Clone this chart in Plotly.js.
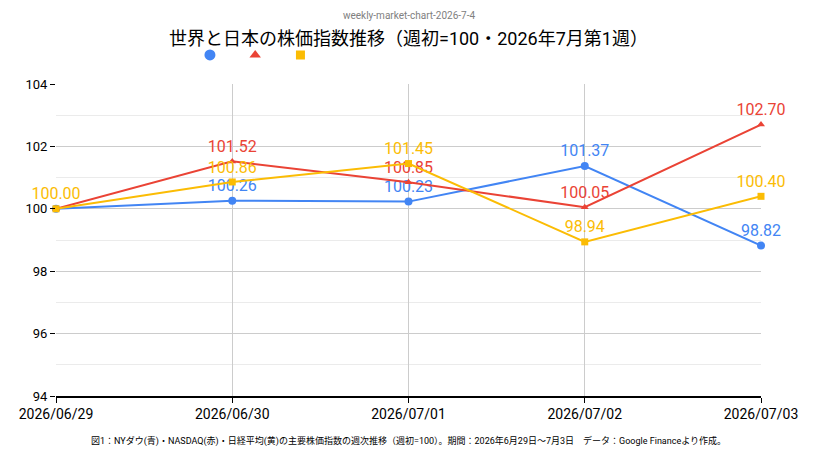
<!DOCTYPE html>
<html>
<head>
<meta charset="utf-8">
<script src="https://cdn.plot.ly/plotly-3.0.1.min.js"></script>
<style>body{margin:0;background:#fff}#chart{width:822px;height:468px}</style>
</head>
<body>
<div id="chart"></div>
<script>
// Weekly index, start of week = 100
const dates = ['2026/06/29', '2026/06/30', '2026/07/01', '2026/07/02', '2026/07/03'];
const dow = [100.00, 100.26, 100.23, 101.37, 98.82];
const nasdaq = [100.00, 101.52, 100.85, 100.05, 102.70];
const nikkei = [100.00, 100.86, 101.45, 98.94, 100.40];

const FONT = 'Roboto, "Noto Sans CJK JP", Arial, sans-serif';

function series(y, color, symbol, size, showLabel0) {
    return {
        x: dates, y: y, type: 'scatter', mode: 'lines+markers+text', showlegend: false,
        line: { color: color, width: 2 },
        marker: { color: color, symbol: symbol, size: size },
        text: y.map((v, i) => (i === 0 && !showLabel0) ? '' : v.toFixed(2)),
        textposition: 'top center',
        textfont: { color: color, size: 16, family: FONT },
        cliponaxis: false,
    };
}

// marker-only legend entries (the reference legend has symbols, no text)
function legendItem(color, symbol, size) {
    return {
        x: [null], y: [null], type: 'scatter', mode: 'markers', name: ' ', showlegend: true,
        marker: { color: color, symbol: symbol, size: size },
    };
}

const traces = [
    series(dow, '#4285f4', 'circle', 8, false),
    series(nasdaq, '#ea4335', 'triangle-up', 7, false),
    series(nikkei, '#fbbc04', 'square', 7, true),
    legendItem('#4285f4', 'circle', 11),
    legendItem('#ea4335', 'triangle-up', 10),
    legendItem('#fbbc04', 'square', 9),
];

const layout = {
    width: 822, height: 468,
    paper_bgcolor: '#fff', plot_bgcolor: '#fff',
    font: { family: FONT, color: '#000', size: 13 },
    margin: { l: 56, r: 61, t: 84, b: 72 },
    showlegend: true,
    legend: { orientation: 'h', x: 0.19, y: 1.093, xanchor: 'left', yanchor: 'middle',
        itemwidth: 30, tracegroupgap: 0, font: { size: 1 } },
    xaxis: {
        type: 'category', range: [0, 4],
        showgrid: true, gridcolor: '#cccccc',
        showline: true, linecolor: '#000', linewidth: 1.5,
        ticks: 'outside', tickcolor: '#000', ticklen: 5, tickfont: { size: 14 },
    },
    yaxis: {
        range: [94, 104], dtick: 2,
        showgrid: true, gridcolor: '#cccccc', zeroline: false,
        minor: { dtick: 1, showgrid: true, gridcolor: '#ebebeb' },
        ticks: 'outside', tickcolor: '#000', ticklen: 5, tickfont: { size: 13 },
    },
    annotations: [
        { text: 'weekly-market-chart-2026-7-4', xref: 'paper', yref: 'paper', x: 0.5, y: 1.218,
          xanchor: 'center', yanchor: 'middle', showarrow: false, font: { size: 10, color: '#808080' } },
        { text: '世界と日本の株価指数推移（週初=100・2026年7月第1週）', xref: 'paper', yref: 'paper', x: 0.5, y: 1.147,
          xanchor: 'center', yanchor: 'middle', showarrow: false, font: { size: 18, color: '#000' } },
        { text: '図1：NYダウ(青)・NASDAQ(赤)・日経平均(黄)の主要株価指数の週次推移（週初=100）。期間：2026年6月29日～7月3日　データ：Google Financeより作成。',
          xref: 'paper', yref: 'paper', x: 0.5, y: -0.144, xanchor: 'center', yanchor: 'middle',
          showarrow: false, font: { size: 9, color: '#000' } },
    ],
};

Plotly.newPlot('chart', traces, layout, { displayModeBar: false, staticPlot: true });
</script>
</body>
</html>
